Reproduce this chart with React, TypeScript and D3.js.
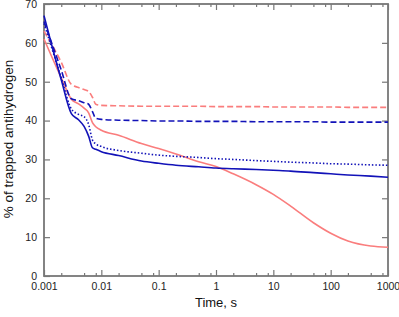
import { useEffect, useRef } from "react"
import * as d3 from "d3"

const times = [0.001, 0.002, 0.003, 0.004, 0.005, 0.006, 0.007, 0.008, 0.01, 0.02, 0.05, 0.1, 0.2, 0.5, 1, 2, 5, 10, 20, 50, 100, 200, 500, 1000]

const blueSolid = [67, 50.5, 41.8, 40.2, 38.5, 36, 33, 32.6, 32, 31, 29.6, 29, 28.5, 28.1, 27.8, 27.6, 27.4, 27.2, 27, 26.6, 26.3, 26, 25.7, 25.4]
const blueDashed = [65.5, 53, 45.6, 45.1, 44.6, 44.2, 42.3, 40.6, 40.3, 40.1, 40, 39.9, 39.9, 39.8, 39.8, 39.8, 39.7, 39.7, 39.7, 39.7, 39.6, 39.6, 39.6, 39.6]
const blueDotted = [65, 51, 43, 41.6, 41, 39, 35, 34, 33.3, 32.3, 31.6, 31.1, 30.8, 30.5, 30.2, 30, 29.7, 29.5, 29.3, 29.1, 28.9, 28.8, 28.6, 28.5]
const pinkDashed = [63, 55, 49.3, 48.5, 48, 47.5, 46, 44.2, 43.9, 43.8, 43.7, 43.7, 43.7, 43.7, 43.6, 43.6, 43.6, 43.5, 43.5, 43.5, 43.5, 43.4, 43.4, 43.4]
const pinkSolid = [61, 51, 45.5, 44.3, 43.2, 42, 39.5, 38.4, 37.5, 36.2, 34.1, 32.8, 31.4, 29.4, 28.2, 26.3, 23.5, 21, 18, 13.7, 11, 9, 7.7, 7.4]

const xMajor = [0.001, 0.01, 0.1, 1, 10, 100, 1000]
const xMinorMult = [2, 5, 8]
const yTicks = [0, 10, 20, 30, 40, 50, 60, 70]

const BLUE = "#1212b8"
const PINK = "#fa7d7d"

const series = [
  { values: pinkSolid, color: PINK, dash: "" },
  { values: pinkDashed, color: PINK, dash: "6,3" },
  { values: blueDotted, color: BLUE, dash: "1.5,2" },
  { values: blueDashed, color: BLUE, dash: "6,3" },
  { values: blueSolid, color: BLUE, dash: "" },
]

export default function App() {
  const svgRef = useRef<SVGSVGElement>(null)

  useEffect(() => {
    if (!svgRef.current) return
    d3.select(svgRef.current).selectAll("*").remove()

    const width = 399
    const height = 317
    const margin = { top: 4, right: 11, bottom: 41, left: 44 }
    const w = width - margin.left - margin.right
    const h = height - margin.top - margin.bottom

    const svg = d3
      .select(svgRef.current)
      .attr("width", width)
      .attr("height", height)
      .append("g")
      .attr("transform", `translate(${margin.left},${margin.top})`)

    const x = d3.scaleLog().domain([0.001, 1000]).range([0, w])
    const y = d3.scaleLinear().domain([0, 70]).range([h, 0])

    const minors: number[] = []
    xMajor.slice(0, -1).forEach((m) => xMinorMult.forEach((k) => minors.push(m * k)))

    const axisColor = "#777"
    const font = "Liberation Sans, Arial, sans-serif"

    const style = (g: d3.Selection<SVGGElement, unknown, null, undefined>) => {
      g.select(".domain").remove()
      g.selectAll("line").attr("stroke", axisColor).attr("stroke-width", 1.2)
      g.selectAll("text").style("font-family", font).style("font-size", "10.5px").style("fill", "#222")
    }

    // bottom axis
    svg.append("g").attr("transform", `translate(0,${h})`)
      .call(d3.axisBottom(x).tickValues(xMajor).tickSize(-6).tickPadding(7).tickFormat((d) => String(d)))
      .call(style)
    svg.append("g").attr("transform", `translate(0,${h})`)
      .call(d3.axisBottom(x).tickValues(minors).tickSize(-3).tickFormat(() => ""))
      .call(style)

    // top axis
    svg.append("g")
      .call(d3.axisTop(x).tickValues(xMajor).tickSize(-6).tickFormat(() => ""))
      .call(style)
    svg.append("g")
      .call(d3.axisTop(x).tickValues(minors).tickSize(-3).tickFormat(() => ""))
      .call(style)

    // left / right axes
    svg.append("g")
      .call(d3.axisLeft(y).tickValues(yTicks).tickSize(-6).tickPadding(7))
      .call(style)
    svg.append("g").attr("transform", `translate(${w},0)`)
      .call(d3.axisRight(y).tickValues(yTicks.slice(1, -1)).tickSize(-6).tickFormat(() => ""))
      .call(style)

    // frame
    svg.append("rect")
      .attr("width", w)
      .attr("height", h)
      .attr("fill", "none")
      .attr("stroke", axisColor)
      .attr("stroke-width", 1.8)

    const line = d3
      .line<number>()
      .x((_, i) => x(times[i]))
      .y((d) => y(d))
      .curve(d3.curveMonotoneX)

    series.forEach((s) => {
      svg.append("path")
        .datum(s.values)
        .attr("d", line)
        .attr("fill", "none")
        .attr("stroke", s.color)
        .attr("stroke-width", 1.6)
        .attr("stroke-dasharray", s.dash || null)
    })

    svg.append("text")
      .attr("x", w / 2)
      .attr("y", h + 31)
      .attr("text-anchor", "middle")
      .style("font-family", font)
      .style("font-size", "13px")
      .style("fill", "#111")
      .text("Time, s")

    svg.append("text")
      .attr("transform", "rotate(-90)")
      .attr("x", -135)
      .attr("y", -31)
      .attr("text-anchor", "middle")
      .style("font-family", font)
      .style("font-size", "13.5px")
      .style("fill", "#111")
      .text("% of trapped antihydrogen")
  }, [])

  return <svg ref={svgRef} style={{ position: "absolute", left: 0, top: 0 }}></svg>
}
